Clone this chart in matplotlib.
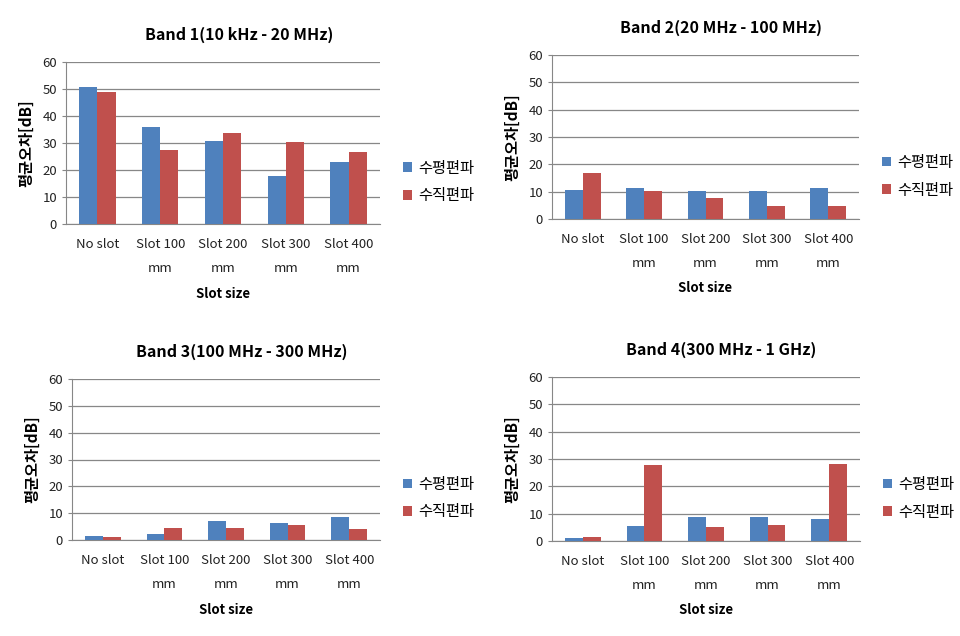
import matplotlib
matplotlib.use('Agg')
import matplotlib.pyplot as plt
import numpy as np

plt.rcParams['font.family'] = ['Noto Sans CJK KR', 'DejaVu Sans']

categories = ['No slot', 'Slot 100\nmm', 'Slot 200\nmm', 'Slot 300\nmm', 'Slot 400\nmm']
series_names = ['수평편파', '수직편파']
titles = ['Band 1(10 kHz - 20 MHz)', 'Band 2(20 MHz - 100 MHz)',
          'Band 3(100 MHz - 300 MHz)', 'Band 4(300 MHz - 1 GHz)']

band1_h = [50.7, 35.9, 30.7, 17.9, 23.0]
band1_v = [48.9, 27.4, 33.7, 30.4, 26.7]
band2_h = [10.6, 11.2, 10.1, 10.1, 11.3]
band2_v = [16.8, 10.1, 7.8, 4.9, 4.9]
band3_h = [1.5, 2.2, 7.1, 6.4, 8.6]
band3_v = [1.1, 4.5, 4.5, 5.6, 4.1]
band4_h = [1.2, 5.6, 8.9, 8.9, 8.2]
band4_v = [1.6, 27.7, 5.2, 6.0, 28.0]

blue = '#4F81BD'
red = '#C0504D'
grid_c = '#878787'

W, H = 960, 636
# axes boxes in pixels: left, top, right, bottom
boxes = [(66, 62, 380, 224), (552, 55, 859, 219),
         (72, 379, 380, 540), (552, 377, 860, 541)]
data = [(band1_h, band1_v), (band2_h, band2_v), (band3_h, band3_v), (band4_h, band4_v)]

fig = plt.figure(figsize=(W / 100, H / 100), dpi=100)

x = np.arange(len(categories))
bw = 0.29
for (l, t, r, b), (hv, vv), title in zip(boxes, data, titles):
    ax = fig.add_axes([l / W, (H - b) / H, (r - l) / W, (b - t) / H])
    ax.bar(x - bw / 2, hv, bw, color=blue, label=series_names[0], zorder=3)
    ax.bar(x + bw / 2, vv, bw, color=red, label=series_names[1], zorder=3)
    ax.set_xlim(-0.5, 4.5)
    ax.set_ylim(0, 60)
    ax.set_yticks(range(0, 61, 10))
    ax.yaxis.grid(True, color=grid_c, linewidth=0.9, zorder=0)
    ax.set_axisbelow(True)
    for s in ['top', 'right']:
        ax.spines[s].set_visible(False)
    for s in ['left', 'bottom']:
        ax.spines[s].set_color(grid_c)
    ax.set_xticks(x)
    ax.set_xticklabels(categories, fontsize=9.5, linespacing=2.15, color='#222222')
    ax.tick_params(axis='x', length=0, pad=10)
    ax.tick_params(axis='y', length=3, color=grid_c, labelsize=9.5, labelcolor='#222222')
    ax.set_ylabel('평균오차[dB]', fontsize=11, fontweight='bold', labelpad=6)
    ax.set_xlabel('Slot size', fontsize=9.5, fontweight='bold', labelpad=8)
    ax.set_title(title, fontsize=11.5, fontweight='bold', x=0.55, pad=16)
    ax.legend(loc='center left', bbox_to_anchor=(1.03, 0.26), frameon=False,
              fontsize=11, handlelength=0.6, handleheight=0.6, handletextpad=0.4,
              labelspacing=0.7)

fig.savefig('out.png', dpi=100)
